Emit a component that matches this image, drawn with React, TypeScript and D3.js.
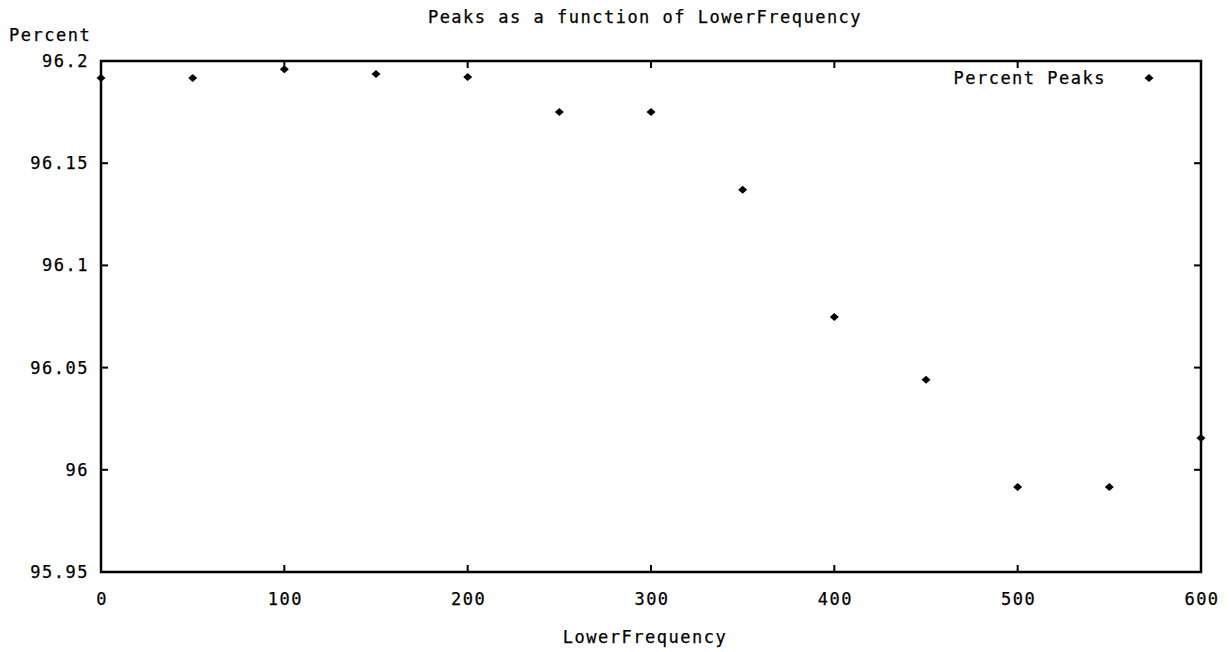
import React from "react";
import * as d3 from "d3";

const lowerFrequency = [0, 50, 100, 150, 200, 250, 300, 350, 400, 450, 500, 550, 600];
const percentPeaks = [96.1917, 96.1917, 96.196, 96.1936, 96.1922, 96.175, 96.175, 96.137, 96.0748, 96.044, 95.9916, 95.9916, 96.0156];
const xTicks = [0, 100, 200, 300, 400, 500, 600];
const yTicks = [95.95, 96, 96.05, 96.1, 96.15, 96.2];
const yTickLabels = ["95.95", "96", "96.05", "96.1", "96.15", "96.2"];

const W = 1229, H = 652;
const L = 101, R = 1201, T = 61, B = 572;
const FONT = "'DejaVu Sans Mono', monospace";
const FS = 17;
const LS = 1.5;

function Diamond({ cx, cy }: { cx: number; cy: number }) {
  return <path d={`M${cx - 4.5},${cy} L${cx},${cy - 4} L${cx + 4.5},${cy} L${cx},${cy + 4} Z`} fill="#000" />;
}

export default function App() {
  const x = d3.scaleLinear().domain([0, 600]).range([L, R]);
  const y = d3.scaleLinear().domain([95.95, 96.2]).range([B, T]);
  const tk = 7;
  const txt = { fontFamily: FONT, fontSize: FS, letterSpacing: LS, fill: "#000", stroke: "#000", strokeWidth: 0.25 };
  return (
    <svg width={W} height={H} style={{ position: "absolute", left: 0, top: 0, background: "#fff" }}>
      <rect x={0} y={0} width={W} height={H} fill="#fff" />
      <text x={645} y={23} textAnchor="middle" {...txt}>Peaks as a function of LowerFrequency</text>
      <text x={9} y={41} {...txt}>Percent</text>
      <text x={645} y={643} textAnchor="middle" {...txt}>LowerFrequency</text>
      {yTicks.map((v, i) => (
        <g key={"y" + i}>
          <line x1={L} x2={L + tk} y1={y(v)} y2={y(v)} stroke="#000" strokeWidth={2} />
          <line x1={R} x2={R - tk} y1={y(v)} y2={y(v)} stroke="#000" strokeWidth={2} />
          <text x={89} y={y(v) + 6} textAnchor="end" {...txt}>{yTickLabels[i]}</text>
        </g>
      ))}
      {xTicks.map((v, i) => (
        <g key={"x" + i}>
          <line x1={x(v)} x2={x(v)} y1={B} y2={B - tk} stroke="#000" strokeWidth={2} />
          <line x1={x(v)} x2={x(v)} y1={T} y2={T + tk} stroke="#000" strokeWidth={2} />
          <text x={x(v) + 1} y={605} textAnchor="middle" {...txt}>{String(v)}</text>
        </g>
      ))}
      <rect x={L} y={T} width={R - L} height={B - T} fill="none" stroke="#000" strokeWidth={2.5} />
      {lowerFrequency.map((f, i) => (
        <Diamond key={"p" + i} cx={x(f)} cy={y(percentPeaks[i])} />
      ))}
      <text x={1106} y={84} textAnchor="end" {...txt}>Percent Peaks</text>
      <Diamond cx={1149} cy={78} />
    </svg>
  );
}
